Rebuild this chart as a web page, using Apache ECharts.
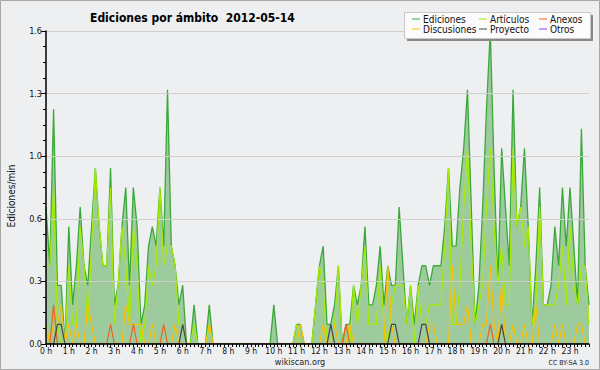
<!DOCTYPE html>
<html><head><meta charset="utf-8">
<script src="https://cdn.jsdelivr.net/npm/echarts@6/dist/echarts.min.js"></script>
<style>html,body{margin:0;padding:0;background:#eeeff0;}#c{width:600px;height:370px;}</style>
</head><body><div id="c"></div>
<script>
// tick labels (one per hour)
const hourLabels = ['0 h','1 h','2 h','3 h','4 h','5 h','6 h','7 h','8 h','9 h','10 h','11 h','12 h','13 h','14 h','15 h','16 h','17 h','18 h','19 h','20 h','21 h','22 h','23 h'];
const yTickLabels = ['0.0','0.3','0.6','1.0','1.3','1.6'];
// categories: 10-minute buckets of the day
const categories = [];
for (let h = 0; h < 24; h++) for (let m = 0; m < 60; m += 10) categories.push(h + ':' + (m < 10 ? '0' + m : m));

const ediciones = [
0.7,0.4,1.2,0.3,0.3,0,0.6,0.2,0.4,0.7,
0.4,0.3,0.6,0.9,0.6,0.4,0.4,0.9,0.2,0.3,
0.6,0.8,0.3,0.8,0.6,0.1,0.2,0.5,0.6,0.5,
0.8,0.5,1.3,0.5,0.4,0.2,0.3,0,0,0.2,
0,0,0,0.2,0,0,0,0,0,0,
0,0,0,0,0,0,0,0,0,0,
0.2,0,0,0,0,0,0.1,0.1,0,0,
0,0.2,0.4,0.5,0.1,0.1,0.2,0.4,0,0.1,
0.1,0.3,0.2,0.3,0.6,0.2,0.2,0.3,0.5,0.2,
0.4,0.3,0.3,0.7,0.4,0.1,0.3,0.1,0.3,0.4,
0.4,0.3,0.4,0.4,0.4,0.6,0.9,0.5,0.5,0.8,
1.0,1.3,0.7,0.1,0.3,0.7,1.2,1.6,0.9,0.3,
1.0,0.7,0.4,1.3,0.6,0.7,1.0,0.6,0.1,0.4,
0.8,0.2,0.2,0.3,0.6,0.4,0.8,0.5,0.8,0.5,
0.2,1.1,0.4,0.2];
const articulos = [
0.4,0.4,0.8,0.1,0,0,0.4,0.1,0.1,0.6,
0.4,0.1,0.5,0.9,0.6,0.4,0.4,0.8,0.1,0.3,
0.6,0.4,0.1,0.6,0.4,0,0.1,0.4,0.3,0.4,
0.8,0.4,0.5,0.5,0.4,0.1,0.1,0,0,0.1,
0,0,0,0.1,0,0,0,0,0,0,
0,0,0,0,0,0,0,0,0,0,
0,0,0,0,0,0,0.1,0,0,0,
0,0.2,0.4,0.3,0,0,0.1,0.4,0,0,
0,0.3,0.1,0.3,0.5,0.1,0.1,0.1,0.4,0.1,
0,0.2,0.3,0.3,0.3,0.1,0.3,0,0.3,0.1,
0.1,0.2,0.2,0.2,0.2,0.5,0.9,0.1,0.1,0.3,
0.7,1.0,0.5,0.1,0.2,0.3,0.7,1.0,0.6,0.3,
0.5,0.2,0.2,1.0,0.6,0.7,0.5,0.6,0.1,0.2,
0.7,0.2,0.2,0.2,0.2,0.3,0.5,0.2,0.6,0.3,
0.2,0.4,0.4,0.1];
const discusiones = [
0.1,0,0.1,0.1,0.2,0,0.1,0,0.1,0,
0,0.2,0.1,0,0,0,0,0,0,0,
0,0.2,0.1,0.1,0.1,0.1,0,0,0.1,0,
0,0,0,0,0.1,0,0,0,0,0,
0,0,0,0.1,0,0,0,0,0,0,
0,0,0,0,0,0,0,0,0,0,
0,0,0,0,0,0,0,0.1,0,0,
0,0,0,0.1,0,0,0.1,0,0,0,
0.1,0,0,0,0,0,0,0,0,0,
0.4,0.1,0,0,0,0,0,0,0,0,
0,0.1,0.1,0,0,0,0,0.4,0.1,0.1,
0.1,0.2,0,0,0,0.1,0.1,0.4,0.1,0,
0.3,0,0,0.1,0,0,0.1,0,0,0.2,
0,0,0,0,0.1,0,0.1,0,0,0,
0.1,0.1,0,0];
const anexos = [
0,0,0.2,0,0,0,0,0,0,0,
0,0,0,0,0,0,0,0.1,0,0,
0,0,0,0.1,0,0,0,0,0,0,
0,0.1,0,0,0,0,0,0,0,0,
0,0,0,0,0,0,0,0,0,0,
0,0,0,0,0,0,0,0,0,0,
0,0,0,0,0,0,0,0,0,0,
0,0,0,0,0,0,0,0,0,0.1,
0,0,0,0,0,0,0,0,0,0,
0,0,0,0,0,0,0,0,0,0,
0,0,0,0,0,0,0,0,0,0,
0,0,0,0,0,0,0,0.1,0,0,
0,0,0,0,0,0,0,0,0,0,
0,0,0,0,0,0,0,0,0,0,
0,0,0,0];
const proyecto = [
0,0,0,0.1,0.1,0,0,0,0,0,
0,0,0,0,0,0,0,0,0,0,
0,0,0,0,0,0,0,0,0,0,
0,0,0,0,0,0,0.1,0,0,0,
0,0,0,0,0,0,0,0,0,0,
0,0,0,0,0,0,0,0,0,0,
0,0,0,0,0,0,0,0,0,0,
0,0,0,0,0,0.1,0,0,0,0,
0,0,0,0,0,0,0,0,0,0,
0,0.1,0.1,0,0,0,0,0,0,0.1,
0.1,0,0,0,0,0,0,0,0,0,
0,0,0,0,0,0,0,0,0,0,
0.1,0,0,0,0,0,0,0,0,0,
0,0,0,0,0,0,0,0,0,0,
0,0,0,0];
const otros = [];

const FONT = '"DejaVu Sans Condensed", "DejaVu Sans"';
const chart = echarts.init(document.getElementById('c'), null, {renderer: 'svg'});
function line(name, data, color, w) {
  return {name: name, type: 'line', data: data, symbol: 'none', color: color,
    lineStyle: {color: color, width: w}, animation: false, z: 3};
}
const eds = line('Ediciones', ediciones, '#3aa83a', 1.3);
eds.areaStyle = {color: '#9ecb9e', opacity: 1};
eds.z = 2;
const legBase = {orient: 'vertical', top: 14, itemGap: 0, itemWidth: 8, itemHeight: 1, icon: 'rect', z: 20,
  textStyle: {fontFamily: FONT, fontSize: 10, color: '#111', lineHeight: 10, padding: [0,0,0,-2]}, padding: 0, selectedMode: false};
chart.setOption({
  backgroundColor: '#eeeff0',
  animation: false,
  title: {text: 'Ediciones por ámbito  2012-05-14', left: 85, top: 7,
    textStyle: {fontFamily: FONT, fontSize: 12, fontWeight: 'bold', color: '#000'}},
  legend: [
    Object.assign({}, legBase, {left: 412, data: ['Ediciones', 'Discusiones']}),
    Object.assign({}, legBase, {left: 479, data: ['Artículos', 'Proyecto']}),
    Object.assign({}, legBase, {left: 539, data: ['Anexos', 'Otros']})
  ],
  grid: {left: 46, right: 11, top: 31, bottom: 26, containLabel: false, outerBoundsMode: 'none'},
  xAxis: {type: 'category', data: categories, boundaryGap: false, z: 5,
    axisLine: {lineStyle: {color: '#000', width: 1.5}},
    axisTick: {interval: 0, length: 3, lineStyle: {color: '#000'}},
    axisLabel: {interval: function (i) { return i % 6 === 0; },
      formatter: function (v, i) { return hourLabels[Math.floor(i / 6)]; },
      fontFamily: FONT, fontSize: 8.5, color: '#111', margin: 2},
    splitLine: {show: false}},
  yAxis: {type: 'value', min: 0, max: 1.6, interval: 0.32, z: 5,
    axisLine: {show: true, lineStyle: {color: '#000', width: 1.5}},
    axisTick: {show: true, length: 5, lineStyle: {color: '#000'}},
    minorTick: {show: true, splitNumber: 4, length: 3, lineStyle: {color: '#000'}},
    axisLabel: {formatter: function (v) { return yTickLabels[Math.round(v / 0.32)]; },
      fontFamily: FONT, fontSize: 9, color: '#111', margin: 4},
    splitLine: {lineStyle: {color: '#cfcfcf', width: 1}}},
  graphic: [
    {type: 'rect', z: -10, shape: {x: 0.5, y: 0.5, width: 599, height: 369}, style: {fill: 'none', stroke: '#a8a8a8', lineWidth: 1}},
    {type: 'rect', z: 10, shape: {x: 407, y: 15, width: 186, height: 26}, style: {fill: '#888888'}},
    {type: 'rect', z: 11, shape: {x: 404.5, y: 12.5, width: 186, height: 26}, style: {fill: '#fbfbfb', stroke: '#c8c8c8', lineWidth: 1}},
    {type: 'text', z: 12, x: 11, y: 196, rotation: Math.PI / 2, style: {text: 'Ediciones/min', font: '10px "DejaVu Sans Condensed", "DejaVu Sans"', fill: '#111', align: 'center', verticalAlign: 'middle'}},
    {type: 'text', z: 12, x: 300, y: 362, style: {text: 'wikiscan.org', font: '9px "DejaVu Sans Condensed", "DejaVu Sans"', fill: '#222', align: 'center', verticalAlign: 'middle'}},
    {type: 'text', z: 12, x: 589, y: 363, style: {text: 'CC BY-SA 3.0', font: '7px "DejaVu Sans Condensed", "DejaVu Sans"', fill: '#222', align: 'right', verticalAlign: 'middle'}}
  ],
  series: [
    eds,
    line('Artículos', articulos, '#a6ec00', 1.2),
    line('Discusiones', discusiones, '#fcc000', 1.2),
    line('Anexos', anexos, '#f06020', 1.2),
    line('Proyecto', proyecto, '#444444', 1.2),
    line('Otros', otros, '#9933ff', 1.2)
  ]
});
</script></body></html>
